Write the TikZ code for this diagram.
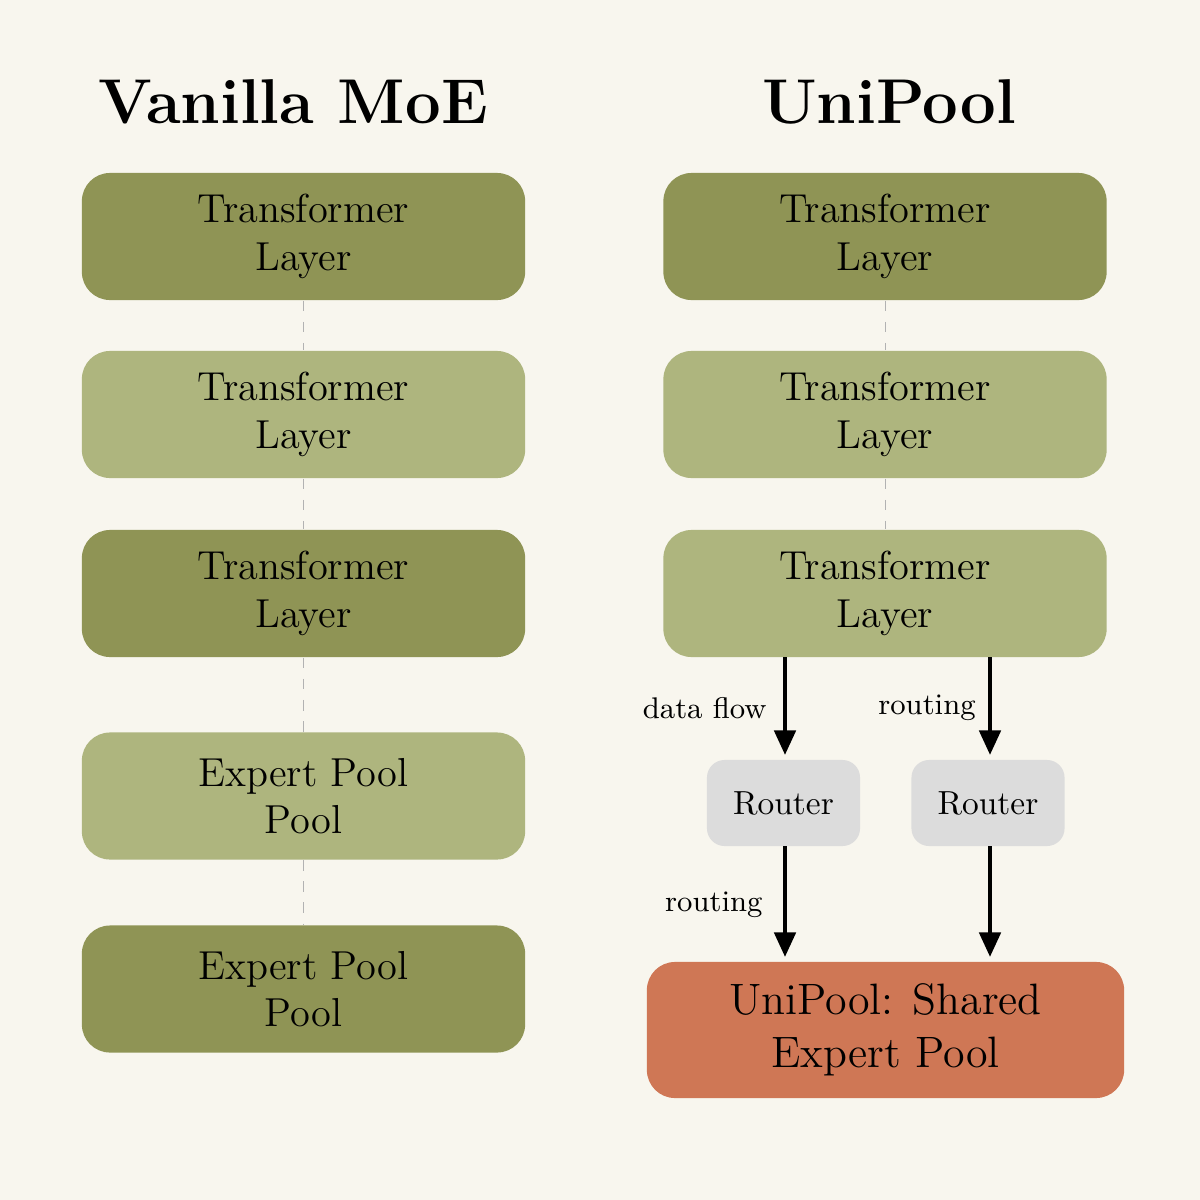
\documentclass[tikz,border=0pt]{standalone}
\usetikzlibrary{arrows.meta}
\definecolor{bg}{HTML}{F8F6EE}
\definecolor{dolive}{HTML}{8F9455}
\definecolor{lolive}{HTML}{AEB57E}
\definecolor{pool}{HTML}{CF7755}
\definecolor{rgray}{HTML}{DCDCDC}
\begin{document}
\begin{tikzpicture}[x=0.01cm,y=-0.01cm,
 box/.style={rounded corners=8pt,inner sep=0pt,align=center,font=\fontsize{11.5}{13.5}\selectfont},
 dk/.style={box,fill=dolive,minimum width=443\pgflinewidth*0+4.43cm,minimum height=1.27cm},
 lt/.style={box,fill=lolive,minimum width=4.43cm,minimum height=1.27cm},
 rt/.style={box,fill=rgray,rounded corners=5pt,minimum width=1.53cm,minimum height=0.86cm,font=\fontsize{9.5}{11}\selectfont},
 dsh/.style={draw=gray!60,dashed,very thin},
 arr/.style={draw,line width=1.3pt,-{Triangle[length=7pt,width=6pt]}},
 lbl/.style={font=\fontsize{8.5}{10}\selectfont}]
\fill[bg] (0,0) rectangle (1200,1200);
\useasboundingbox (0,0) rectangle (1200,1200);
\node[font=\bfseries\fontsize{18}{20}\selectfont] (t1) at (293,102) {Vanilla MoE};
\node[font=\bfseries\fontsize{18}{20}\selectfont] (t2) at (889,102) {UniPool};
\node[dk] (a1) at (303.5,236.5) {Transformer\\Layer};
\node[lt] (a2) at (303.5,414.5) {Transformer\\Layer};
\node[dk] (a3) at (303.5,593.5) {Transformer\\Layer};
\node[lt] (a4) at (303.5,796) {Expert Pool\\Pool};
\node[dk] (a5) at (303.5,989) {Expert Pool\\Pool};
\draw[dsh] (a1)--(a2); \draw[dsh] (a2)--(a3); \draw[dsh] (a3)--(a4); \draw[dsh] (a4)--(a5);
\node[dk] (b1) at (885,236.5) {Transformer\\Layer};
\node[lt] (b2) at (885,414.5) {Transformer\\Layer};
\node[lt] (b3) at (885,593.5) {Transformer\\Layer};
\draw[dsh] (b1)--(b2); \draw[dsh] (b2)--(b3);
\node[rt] (r1) at (783.5,803) {Router};
\node[rt] (r2) at (988,803) {Router};
\node[box,fill=pool,minimum width=4.77cm,minimum height=1.36cm,font=\fontsize{12.5}{15}\selectfont] (p) at (885.5,1030) {UniPool: Shared\\Expert Pool};
\draw[arr] (785,657) -- (785,755);
\draw[arr] (990,657) -- (990,755);
\draw[arr] (785,846) -- (785,957);
\draw[arr] (990,846) -- (990,957);
\node[lbl,anchor=east] (l1) at (779,708) {data flow};
\node[lbl] (l2) at (927,708) {routing};
\node[lbl,anchor=east] (l3) at (775,905) {routing};
\end{tikzpicture}
\end{document}
